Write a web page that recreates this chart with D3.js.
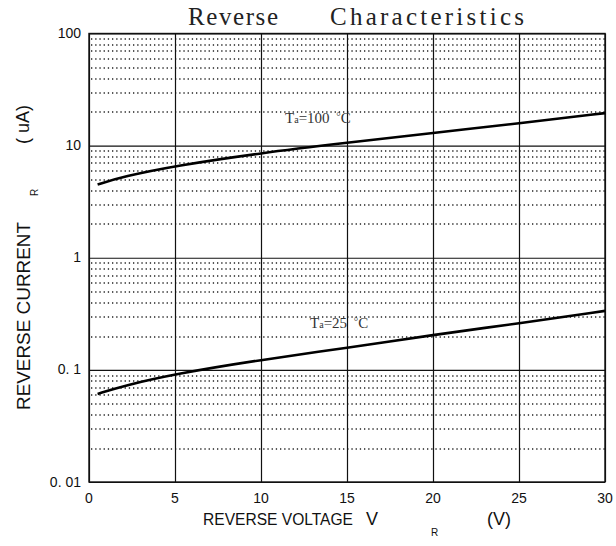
<!DOCTYPE html>
<html>
<head>
<meta charset="utf-8">
<script src="https://cdn.jsdelivr.net/npm/d3@7"></script>
<style>
  html, body { margin: 0; padding: 0; background: #fff; }
  svg { display: block; }
</style>
</head>
<body>
<svg id="chart" width="616" height="546"></svg>
<script>
// reverse voltage (V) sample points
const voltage = [0.5, 2, 5, 10, 15, 20, 25, 30];
// reverse current (uA) at Ta = 100 C
const current100 = [4.5, 5.3, 6.6, 8.6, 10.6, 13.0, 15.8, 19.5];
// reverse current (uA) at Ta = 25 C
const current25 = [0.061, 0.072, 0.092, 0.123, 0.157, 0.205, 0.26, 0.336];

const xTicks = [0, 5, 10, 15, 20, 25, 30];
const yTicks = [0.01, 0.1, 1, 10, 100];
const yTickLabels = ["0. 01", "0. 1", "1", "10", "100"];

const svg = d3.select("#chart");
const margin = { top: 33.5, right: 11, bottom: 64, left: 89 };
const width = 616 - margin.left - margin.right;
const height = 546 - margin.top - margin.bottom;

const x = d3.scaleLinear().domain([0, 30]).range([0, width]);
const y = d3.scaleLog().domain([0.01, 100]).range([height, 0]);

const g = svg.append("g")
  .attr("transform", `translate(${margin.left},${margin.top})`);

// minor dotted grid (2..9 in every decade)
const minor = y.ticks().filter(v => !yTicks.some(t => Math.abs(t - v) / t < 1e-6));
g.append("g")
  .selectAll("line")
  .data(minor)
  .join("line")
  .attr("x1", 2)
  .attr("x2", width)
  .attr("y1", d => Math.round(y(d)) + 0.5)
  .attr("y2", d => Math.round(y(d)) + 0.5)
  .attr("stroke", "#222")
  .attr("stroke-width", 1.3)
  .attr("stroke-dasharray", "1.3,2.9");

// vertical grid
g.append("g")
  .call(d3.axisBottom(x).tickValues(xTicks).tickSize(-height).tickFormat(""))
  .attr("transform", `translate(0,${height})`)
  .call(s => s.select(".domain").remove())
  .call(s => s.selectAll("line").attr("stroke", "#111").attr("stroke-width", 1.2));

// horizontal decade grid
g.append("g")
  .call(d3.axisLeft(y).tickValues(yTicks).tickSize(-width).tickFormat(""))
  .call(s => s.select(".domain").remove())
  .call(s => s.selectAll("line").attr("stroke", "#111").attr("stroke-width", 1.2));

// frame
g.append("rect")
  .attr("x", 0).attr("y", 0)
  .attr("width", width).attr("height", height)
  .attr("fill", "none")
  .attr("stroke", "#111")
  .attr("stroke-width", 1.4);

// tick labels
g.append("g")
  .selectAll("text")
  .data(yTicks)
  .join("text")
  .attr("x", -8)
  .attr("y", d => y(d))
  .attr("dy", "0.33em")
  .attr("text-anchor", "end")
  .attr("font-family", "Liberation Sans, Arial, sans-serif")
  .attr("font-size", 14)
  .attr("fill", "#111")
  .text((d, i) => yTickLabels[i]);

g.append("g")
  .selectAll("text")
  .data(xTicks)
  .join("text")
  .attr("x", d => x(d))
  .attr("y", height + 21)
  .attr("text-anchor", "middle")
  .attr("font-family", "Liberation Sans, Arial, sans-serif")
  .attr("font-size", 14)
  .attr("fill", "#111")
  .text(d => d);

// curves
const line = d3.line()
  .x(d => x(d[0]))
  .y(d => y(d[1]))
  .curve(d3.curveBasis);

[current100, current25].forEach(series => {
  g.append("path")
    .datum(voltage.map((v, i) => [v, series[i]]))
    .attr("fill", "none")
    .attr("stroke", "#000")
    .attr("stroke-width", 2.6)
    .attr("d", line);
});

// curve labels
function tempLabel(px, py, temp) {
  const t = svg.append("text")
    .attr("x", px).attr("y", py)
    .attr("font-family", "Liberation Serif, serif")
    .attr("font-size", 15)
    .attr("fill", "#333");
  t.append("tspan").text("T");
  t.append("tspan").attr("font-size", 10).text("a");
  t.append("tspan").text("=" + temp + " ");
  t.append("tspan").attr("dx", 3).attr("dy", -3).attr("font-size", 11).text("°");
  t.append("tspan").attr("dy", 3).text("C");
}
tempLabel(285, 123, 100);
tempLabel(310, 328, 25);

// title
const titleFont = "Liberation Serif, serif";
svg.append("text")
  .attr("x", 188).attr("y", 25)
  .attr("font-family", titleFont)
  .attr("font-size", 25)
  .attr("textLength", 90)
  .attr("lengthAdjust", "spacing")
  .attr("fill", "#222")
  .text("Reverse");
svg.append("text")
  .attr("x", 330).attr("y", 25)
  .attr("font-family", titleFont)
  .attr("font-size", 25)
  .attr("textLength", 194)
  .attr("lengthAdjust", "spacing")
  .attr("fill", "#222")
  .text("Characteristics");

// x axis title
const sans = "Liberation Sans, Arial, sans-serif";
svg.append("text")
  .attr("x", 203).attr("y", 525)
  .attr("font-family", sans).attr("font-size", 16)
  .attr("textLength", 150).attr("lengthAdjust", "spacingAndGlyphs")
  .attr("fill", "#111")
  .text("REVERSE VOLTAGE");
svg.append("text")
  .attr("x", 366).attr("y", 525)
  .attr("font-family", sans).attr("font-size", 18)
  .attr("fill", "#111")
  .text("V");
svg.append("text")
  .attr("x", 431).attr("y", 536)
  .attr("font-family", sans).attr("font-size", 10)
  .attr("fill", "#111")
  .text("R");
svg.append("text")
  .attr("x", 487).attr("y", 525)
  .attr("font-family", sans).attr("font-size", 18)
  .attr("fill", "#111")
  .text("(V)");

// y axis title
svg.append("text")
  .attr("transform", "translate(30,410) rotate(-90)")
  .attr("font-family", sans).attr("font-size", 18)
  .attr("textLength", 188).attr("lengthAdjust", "spacingAndGlyphs")
  .attr("fill", "#111")
  .text("REVERSE CURRENT");
svg.append("text")
  .attr("transform", "translate(38,196) rotate(-90)")
  .attr("font-family", sans).attr("font-size", 10)
  .attr("fill", "#111")
  .text("R");
svg.append("text")
  .attr("transform", "translate(29,144) rotate(-90)")
  .attr("font-family", sans).attr("font-size", 18)
  .attr("fill", "#111")
  .text("( uA)");
</script>
</body>
</html>
